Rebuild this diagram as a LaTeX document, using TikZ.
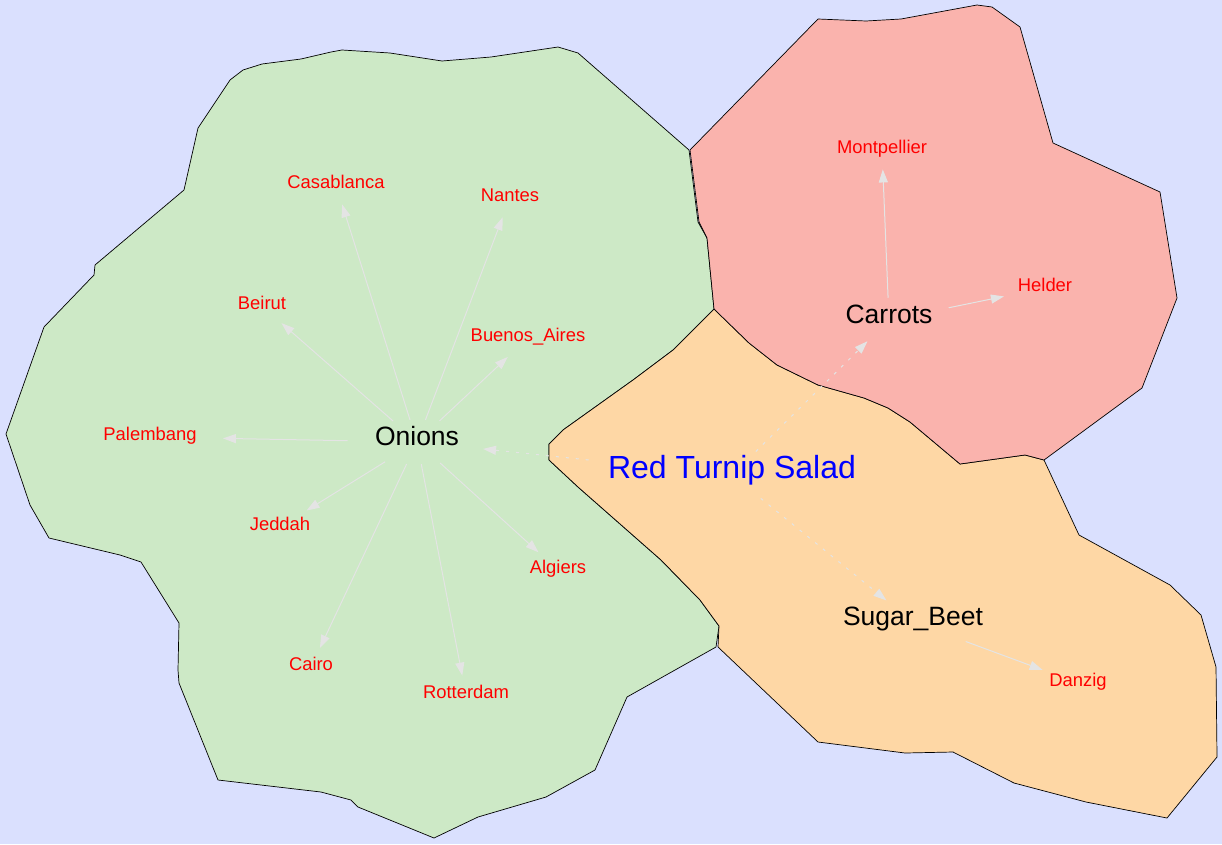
\documentclass[tikz,border=0pt]{standalone}
\usepackage{fontspec}
\setmainfont{Liberation Sans}
\usetikzlibrary{arrows.meta,shapes.geometric}
\definecolor{bgc}{HTML}{DAE0FE}
\definecolor{onionc}{HTML}{CDE9C6}
\definecolor{carrotc}{HTML}{FAB3AD}
\definecolor{beetc}{HTML}{FED7A5}
\definecolor{linkc}{HTML}{E4E4E4}
\definecolor{cityc}{HTML}{FF0000}
\definecolor{titlec}{HTML}{0000FF}

\begin{document}
\begin{tikzpicture}[x=1pt,y=-1pt,
    region/.style={draw=black,line width=0.7pt,line join=round},
    vnode/.style={ellipse,inner xsep=7pt,text height=0.72em,text depth=0pt},
    city/.style={vnode,inner xsep=5pt,inner ysep=10pt,text=cityc,font=\fontsize{18.4}{20}\selectfont},
    crop/.style={vnode,inner ysep=12pt,font=\fontsize{26.5}{28}\selectfont},
    link/.style={linkc,line width=1pt,-{Triangle[length=13pt,width=9pt]}},
    dotlink/.style={link,dash pattern=on 3pt off 7pt}]
        \useasboundingbox (0,0) rectangle (1222,844);
        \fill[bgc] (0,0) rectangle (1222,844);
        \filldraw[region,fill=onionc] (342,50) -- (390,53) -- (442,61) -- (491,57) -- (558,47) -- (578,53) -- (689,150) -- (698,222) -- (707,238) -- (714,309) -- (673,350) -- (633,380) -- (563,430) -- (549,444) -- (549,460) -- (578,487) -- (661,560) -- (700,600) -- (719,626) -- (716,647) -- (627,697) -- (595,770) -- (546,797) -- (478,817) -- (434,838) -- (358,807) -- (351,800) -- (321,792) -- (218,780) -- (179,683) -- (178,670) -- (179,623) -- (141,562) -- (120,555) -- (49,538) -- (30,505) -- (6,434) -- (44,327) -- (94,275) -- (95,265) -- (184,190) -- (198,128) -- (230,80) -- (243,70) -- (262,64) -- (301,59) -- (331,52) -- cycle;
        \filldraw[region,fill=beetc] (714,309) -- (749,343) -- (777,365) -- (818,385) -- (864,398) -- (888,408) -- (910,422) -- (960,464) -- (1025,455) -- (1044,460) -- (1079,535) -- (1170,585) -- (1201,615) -- (1216,667) -- (1217,757) -- (1167,818) -- (1086,802) -- (1014,783) -- (953,752) -- (905,753) -- (818,742) -- (718,647) -- (719,626) -- (700,600) -- (661,560) -- (578,487) -- (549,460) -- (549,444) -- (563,430) -- (633,380) -- (673,350) -- cycle;
        \filldraw[region,fill=carrotc] (690,150) -- (818,19) -- (866,21) -- (901,19) -- (977,5) -- (992,7) -- (1020,27) -- (1053,143) -- (1160,192) -- (1177,298) -- (1142,388) -- (1044,460) -- (1025,455) -- (960,464) -- (910,422) -- (888,408) -- (864,398) -- (818,385) -- (777,365) -- (749,343) -- (714,309) -- (707,238) -- (699,222) -- cycle;
        \node[vnode,inner ysep=13pt,text=titlec,font=\fontsize{32}{34}\selectfont] (salad) at (732,475) {Red Turnip Salad};
        \node[crop] (onions) at (417,442) {Onions};
        \node[crop] (carrots) at (889,320) {Carrots};
        \node[crop] (sugarbeet) at (913,622) {Sugar\_Beet};
        \node[city] (casablanca) at (336,185) {Casablanca};
        \node[city] (nantes) at (510,198) {Nantes};
        \node[city] (beirut) at (262,306) {Beirut};
        \node[city] (buenosaires) at (528,338) {Buenos\_Aires};
        \node[city] (palembang) at (150,437) {Palembang};
        \node[city] (jeddah) at (280,527) {Jeddah};
        \node[city] (algiers) at (558,570) {Algiers};
        \node[city] (cairo) at (311,667) {Cairo};
        \node[city] (rotterdam) at (466,695) {Rotterdam};
        \node[city] (montpellier) at (882,150) {Montpellier};
        \node[city] (helder) at (1045,288) {Helder};
        \node[city] (danzig) at (1078,683) {Danzig};
        \foreach \c in {casablanca,nantes,beirut,buenosaires,palembang,jeddah,algiers,cairo,rotterdam} {\draw[link] (onions) -- (\c);}
        \draw[link] (carrots) -- (montpellier);
        \draw[link] (carrots) -- (helder);
        \draw[link] (sugarbeet) -- (danzig);
        \foreach \c in {onions,carrots,sugarbeet} {\draw[dotlink] (salad) -- (\c);}
      \end{tikzpicture}
\end{document}
